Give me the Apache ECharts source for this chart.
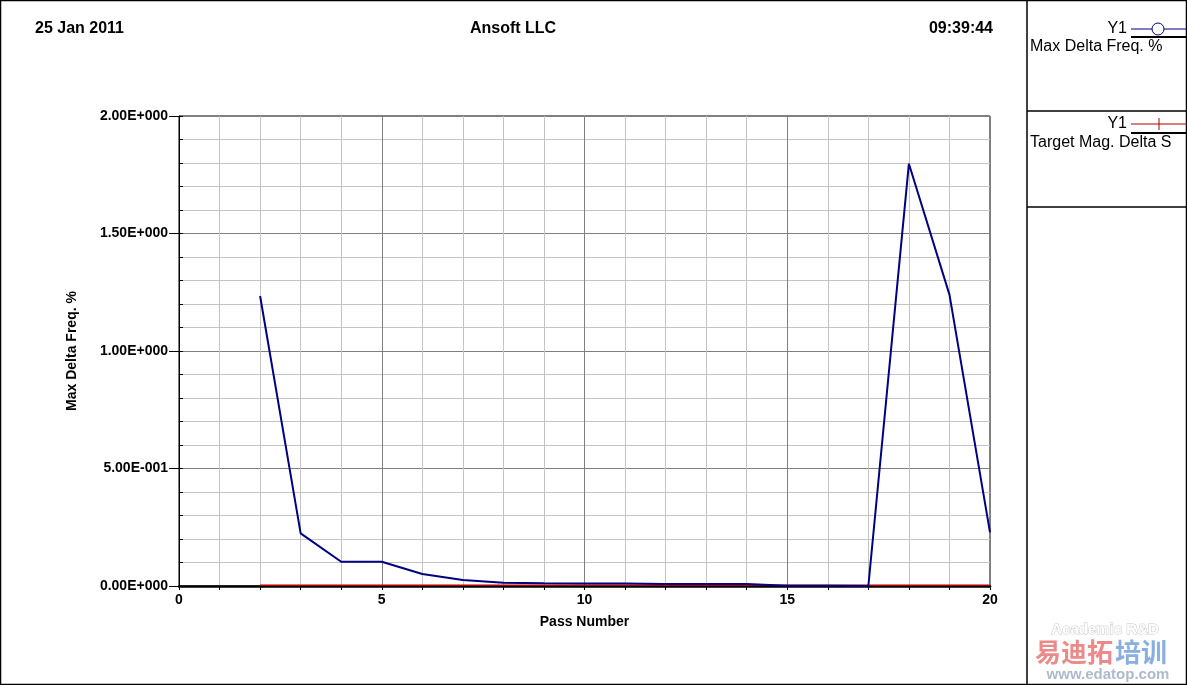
<!DOCTYPE html>
<html>
<head>
<meta charset="utf-8">
<title>Ansoft LLC - Max Delta Freq.</title>
<script src="https://cdn.jsdelivr.net/npm/echarts@6/dist/echarts.min.js"></script>
<style>
  html, body { margin: 0; padding: 0; background: #fff; }
  #chart { width: 1187px; height: 685px; }
</style>
</head>
<body>
<div id="chart"></div>
<script>
// pass numbers 2..20
const passNumbers = [2, 3, 4, 5, 6, 7, 8, 9, 10, 11, 12, 13, 14, 15, 16, 17, 18, 19, 20]
const maxDeltaFreq = [1.234, 0.224, 0.103, 0.103, 0.051, 0.026, 0.014, 0.012, 0.011, 0.011, 0.008, 0.008, 0.008, 0.001, 0.001, 0, 1.797, 1.24, 0.228]
const targetMagDeltaS = [0.003, 0.003, 0.003, 0.003, 0.003, 0.003, 0.003, 0.003, 0.003, 0.003, 0.003, 0.003, 0.003, 0.003, 0.003, 0.003, 0.003, 0.003, 0.003]
const headerTexts = ['25 Jan 2011', 'Ansoft LLC', '09:39:44']
const legendNames = ['Max Delta Freq. %', 'Target Mag. Delta S']

const font = 'Liberation Sans, Arial, sans-serif'

// 2.00E+000 style labels
function sciLabel(v) {
  if (v === 0) return '0.00E+000'
  let e = Math.floor(Math.log10(Math.abs(v)) + 1e-9)
  let m = v / Math.pow(10, e)
  let sign = e < 0 ? '-' : '+'
  return m.toFixed(2) + 'E' + sign + String(Math.abs(e)).padStart(3, '0')
}

const chart = echarts.init(document.getElementById('chart'))

let option = {
  animation: false,
  backgroundColor: '#fff',
  textStyle: { fontFamily: font },
  grid: {
    left: 179,
    top: 116,
    right: 197,
    bottom: 99,
    show: true,
    backgroundColor: '#fff',
    borderColor: '#000',
    borderWidth: 1,
  },
  xAxis: [
    {
      // minor grid every pass
      type: 'value',
      min: 0,
      max: 20,
      interval: 1,
      axisLine: { show: true, lineStyle: { color: '#000', width: 2.5 } },
      axisTick: { show: true, length: 4, lineStyle: { color: '#000' } },
      axisLabel: { show: false },
      splitLine: {
        show: true,
        lineStyle: { color: ['#808080', '#c4c4c4', '#c4c4c4', '#c4c4c4', '#c4c4c4'], width: 1 },
      },
    },
    {
      type: 'value',
      min: 0,
      max: 20,
      interval: 5,
      position: 'bottom',
      name: 'Pass Number',
      nameLocation: 'middle',
      nameGap: 29,
      nameTextStyle: { color: '#000', fontWeight: 'bold', fontSize: 14, fontFamily: font },
      axisLine: { show: false },
      axisTick: { show: false },
      axisLabel: { color: '#000', fontWeight: 'bold', fontSize: 14, margin: 7, fontFamily: font },
      splitLine: { show: false },
    },
  ],
  yAxis: [
    {
      type: 'value',
      min: 0,
      max: 2,
      interval: 0.1,
      axisLine: { show: true, lineStyle: { color: '#000', width: 1 } },
      axisTick: { show: true, inside: true, length: 4, lineStyle: { color: '#000' } },
      axisLabel: { show: false },
      splitLine: {
        show: true,
        lineStyle: { color: ['#808080', '#c4c4c4', '#c4c4c4', '#c4c4c4', '#c4c4c4'], width: 1 },
      },
    },
    {
      type: 'value',
      min: 0,
      max: 2,
      interval: 0.5,
      position: 'left',
      name: 'Max Delta Freq. %',
      nameLocation: 'middle',
      nameGap: 100,
      nameTextStyle: { color: '#000', fontWeight: 'bold', fontSize: 14, fontFamily: font },
      axisLine: { show: false },
      axisTick: { show: true, length: 10, lineStyle: { color: '#000' } },
      axisLabel: {
        color: '#000',
        fontWeight: 'bold',
        fontSize: 14,
        margin: 11,
        verticalAlign: 'middle',
        padding: [0, 0, 6, 0],
        fontFamily: font,
        formatter: (v) => sciLabel(v),
      },
      splitLine: { show: false },
    },
  ],
  series: [
    {
      name: legendNames[1],
      type: 'line',
      xAxisIndex: 0,
      yAxisIndex: 0,
      showSymbol: false,
      lineStyle: { color: '#b00000', width: 1.5 },
      data: passNumbers.map((p, i) => [p, targetMagDeltaS[i]]),
      z: 3,
    },
    {
      name: legendNames[0],
      type: 'line',
      xAxisIndex: 0,
      yAxisIndex: 0,
      showSymbol: false,
      lineStyle: { color: '#000080', width: 2 },
      data: passNumbers.map((p, i) => [p, maxDeltaFreq[i]]),
      z: 4,
    },
  ],
  graphic: [
    // outer frame and legend panel
    { type: 'rect', shape: { x: 0.5, y: 0.5, width: 1186, height: 684 }, style: { fill: null, stroke: '#000', lineWidth: 1.5 }, silent: true },
    { type: 'line', shape: { x1: 1027, y1: 0, x2: 1027, y2: 685 }, style: { stroke: '#000', lineWidth: 1.5 } },
    { type: 'line', shape: { x1: 1027, y1: 111, x2: 1187, y2: 111 }, style: { stroke: '#000', lineWidth: 1.5 } },
    { type: 'line', shape: { x1: 1027, y1: 207, x2: 1187, y2: 207 }, style: { stroke: '#000', lineWidth: 1.5 } },
    // header
    { type: 'text', x: 35, y: 29, style: { text: headerTexts[0], font: 'bold 16px ' + font, fill: '#000', textVerticalAlign: 'middle' } },
    { type: 'text', x: 513, y: 29, style: { text: headerTexts[1], font: 'bold 16px ' + font, fill: '#000', textAlign: 'center', textVerticalAlign: 'middle' } },
    { type: 'text', x: 993, y: 29, style: { text: headerTexts[2], font: 'bold 16px ' + font, fill: '#000', textAlign: 'right', textVerticalAlign: 'middle' } },
    // legend entry 1
    { type: 'text', x: 1127, y: 29, style: { text: 'Y1', font: '16px ' + font, fill: '#000', textAlign: 'right', textVerticalAlign: 'middle' } },
    { type: 'line', shape: { x1: 1131, y1: 29, x2: 1187, y2: 29 }, style: { stroke: '#000080', lineWidth: 1 } },
    { type: 'circle', shape: { cx: 1158, cy: 29, r: 6 }, style: { fill: '#fff', stroke: '#000080', lineWidth: 1 } },
    { type: 'line', shape: { x1: 1131, y1: 37, x2: 1187, y2: 37 }, style: { stroke: '#000', lineWidth: 2 } },
    { type: 'text', x: 1030, y: 47, style: { text: legendNames[0], font: '16px ' + font, fill: '#000', textVerticalAlign: 'middle' } },
    // legend entry 2
    { type: 'text', x: 1127, y: 124, style: { text: 'Y1', font: '16px ' + font, fill: '#000', textAlign: 'right', textVerticalAlign: 'middle' } },
    { type: 'line', shape: { x1: 1131, y1: 124, x2: 1187, y2: 124 }, style: { stroke: '#b00000', lineWidth: 1 } },
    { type: 'line', shape: { x1: 1159, y1: 118, x2: 1159, y2: 130 }, style: { stroke: '#b00000', lineWidth: 1 } },
    { type: 'line', shape: { x1: 1131, y1: 133, x2: 1187, y2: 133 }, style: { stroke: '#000', lineWidth: 2 } },
    { type: 'text', x: 1030, y: 143, style: { text: legendNames[1], font: '16px ' + font, fill: '#000', textVerticalAlign: 'middle' } },
    // watermark
    { type: 'text', x: 1105, y: 630, style: { text: 'Academic R&D', font: 'bold 15px ' + font, fill: '#fff', stroke: '#c8c8c8', lineWidth: 1, textAlign: 'center', textVerticalAlign: 'middle' } },
    { type: 'text', x: 1035, y: 652, style: { text: '易迪拓', font: 'bold 26px Noto Sans CJK SC', fill: 'rgba(220,40,40,0.55)', textVerticalAlign: 'middle' } },
    { type: 'text', x: 1115, y: 652, style: { text: '培训', font: 'bold 26px Noto Sans CJK SC', fill: 'rgba(40,110,200,0.55)', textVerticalAlign: 'middle' } },
    { type: 'text', x: 1108, y: 675, style: { text: 'www.edatop.com', font: 'bold 15px ' + font, fill: 'rgba(120,140,170,0.6)', textAlign: 'center', textVerticalAlign: 'middle' } },
  ],
}
chart.setOption(option)
</script>
</body>
</html>
